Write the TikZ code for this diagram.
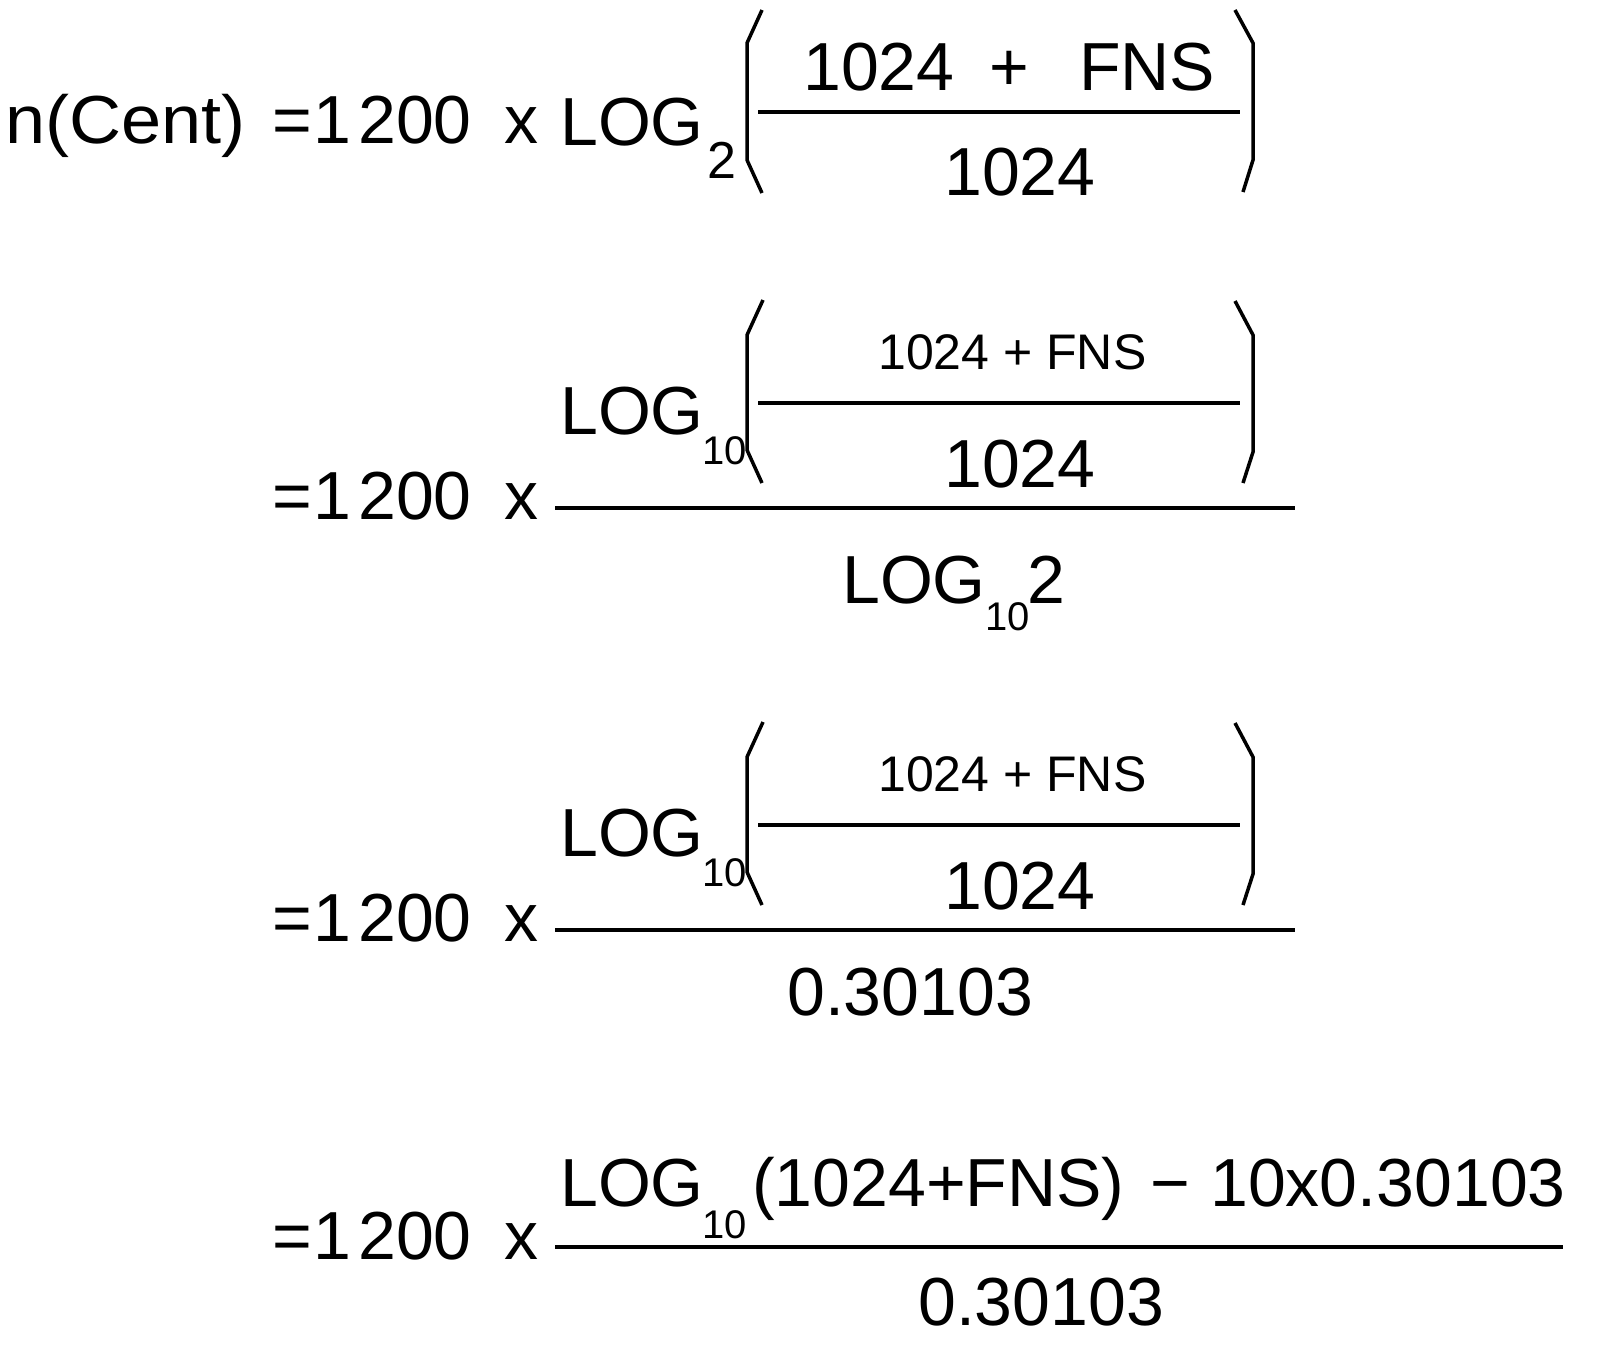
\documentclass[tikz,border=0pt]{standalone}
\usepackage{fontspec}
\setmainfont{Liberation Sans}
\begin{document}
\begin{tikzpicture}[x=1pt,y=-1pt,
  big/.style={inner sep=0, anchor=base west, font=\fontsize{68}{80}\selectfont},
  mid/.style={inner sep=0, anchor=base west, font=\fontsize{50}{60}\selectfont},
  sub/.style={inner sep=0, anchor=base west, font=\fontsize{40}{48}\selectfont},
  subbig/.style={inner sep=0, anchor=base west, font=\fontsize{52}{60}\selectfont},
  bar/.style={line width=4.5pt},
  paren/.style={line width=3.5pt, line cap=butt, line join=miter}]
\useasboundingbox (0,0) rectangle (1600,1345);
% ---------- row 1
\node[big] (r1n) at (5,143) {\scalebox{1.06}[1]{n(Cent)}};
\node[big] (r1eq) at (272,143) {=};
\node[big] (r1one) at (313,143) {1};
\node[big] (r1k) at (358,143) {200};
\node[big] (r1x) at (504,143) {x};
\node[big] (r1log) at (560,145) {LOG};
\node[subbig] (r1s) at (707,178) {2};
\node[big] (r1a) at (803,90) {1024};
\node[big] (r1p) at (989,90) {+};
\node[big] (r1f) at (1079,90) {FNS};
\node[big] (r1d) at (944,195) {1024};
\draw[bar] (758,112) -- (1240,112);
\draw[paren] (762,10) -- (747,43) -- (747,160) -- (762,193);
\draw[paren] (1235,10) -- (1253,43) -- (1253,160) -- (1243,192);
% ---------- row 2
\node[big] (r2eq) at (272,519) {=};
\node[big] (r2one) at (313,519) {1};
\node[big] (r2k) at (358,519) {200};
\node[big] (r2x) at (504,519) {x};
\node[big] (r2log) at (560,434) {LOG};
\node[sub] (r2s) at (702,464) {10};
\node[mid] (r2a) at (878,369) {1024 + FNS};
\node[big] (r2d) at (944,487) {1024};
\draw[bar] (758,403) -- (1240,403);
\draw[paren] (763,300) -- (747,335) -- (747,450) -- (762,483);
\draw[paren] (1235,301) -- (1253,335) -- (1253,452) -- (1243,483);
\draw[bar] (555,508) -- (1295,508);
\node[big] (r2dl) at (842,603) {LOG};
\node[sub] (r2ds) at (985,630) {10};
\node[big] (r2d2) at (1027,603) {2};
% ---------- row 3
\node[big] (r3eq) at (272,941) {=};
\node[big] (r3one) at (313,941) {1};
\node[big] (r3k) at (358,941) {200};
\node[big] (r3x) at (504,941) {x};
\node[big] (r3log) at (560,856) {LOG};
\node[sub] (r3s) at (702,886) {10};
\node[mid] (r3a) at (878,791) {1024 + FNS};
\node[big] (r3d) at (944,909) {1024};
\draw[bar] (758,825) -- (1240,825);
\draw[paren] (763,722) -- (747,757) -- (747,872) -- (762,905);
\draw[paren] (1235,723) -- (1253,757) -- (1253,874) -- (1243,905);
\draw[bar] (555,930) -- (1295,930);
\node[big] (r3den) at (787,1015) {0.30103};
% ---------- row 4
\node[big] (r4eq) at (272,1259) {=};
\node[big] (r4one) at (313,1259) {1};
\node[big] (r4k) at (358,1259) {200};
\node[big] (r4x) at (504,1259) {x};
\node[big] (r4log) at (560,1206) {LOG};
\node[sub] (r4s) at (702,1238) {10};
\node[big] (r4a) at (752,1206) {(1024+FNS)};
\node[big] (r4m) at (1150,1206) {−};
\node[big, anchor=base east] (r4b) at (1566,1206) {10x0.30103};
\draw[bar] (555,1247) -- (1563,1247);
\node[big] (r4den) at (918,1325) {0.30103};
\end{tikzpicture}
\end{document}
